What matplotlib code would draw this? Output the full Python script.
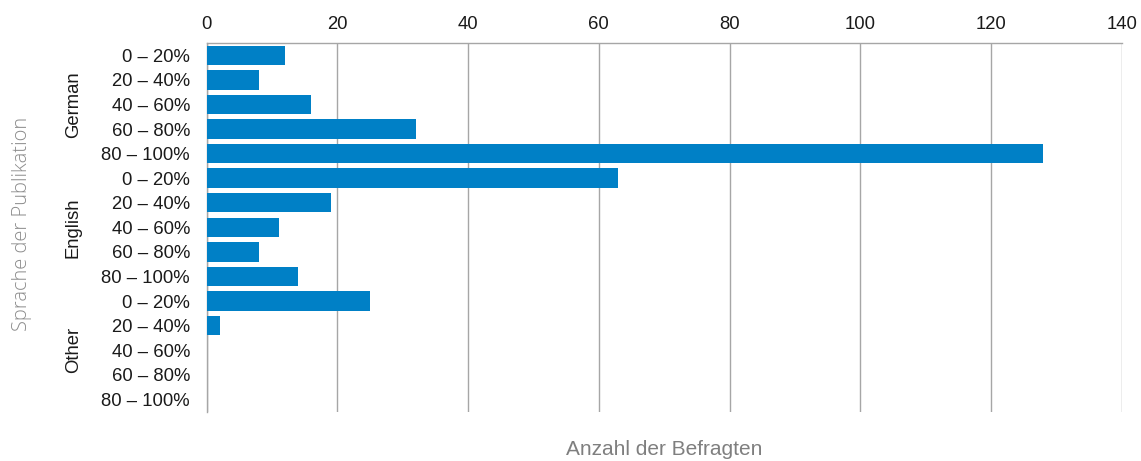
import matplotlib.pyplot as plt
import numpy as np

plt.rcParams["font.family"] = ["Liberation Sans", "DejaVu Sans"]

languages = ["German", "English", "Other"]
shares = ["0 – 20%", "20 – 40%", "40 – 60%", "60 – 80%", "80 – 100%"]
german = [12, 8, 16, 32, 128]
english = [63, 19, 11, 8, 14]
other = [25, 2, 0, 0, 0]

values = german + english + other
labels = shares * len(languages)
y = np.arange(len(values))

fig = plt.figure(figsize=(11.41, 4.61), dpi=100)
ax = fig.add_axes([0.1811, 0.1069, 0.8020, 0.7998])

ax.barh(y, values, height=0.79, color="#0080C6", zorder=3)
ax.set_ylim(len(values) - 0.5, -0.5)
ax.set_xlim(0, 140)
ax.set_xticks(np.arange(0, 141, 20))
ax.xaxis.tick_top()
ax.set_yticks(y)
ax.set_yticklabels(labels)
ax.tick_params(axis="x", length=0, pad=7, labelsize=13.3, colors="#1a1a1a")
ax.tick_params(axis="y", length=0, pad=12, labelsize=13.3, colors="#1a1a1a")

ax.grid(True, axis="x", color="#a6a6a6", linewidth=1.0, zorder=0)
for side in ["right", "bottom"]:
    ax.spines[side].set_visible(False)
for side in ["top", "left"]:
    ax.spines[side].set_color("#a6a6a6")
    ax.spines[side].set_linewidth(1.0)

# language group labels
for i, lang in enumerate(languages):
    ax.text(-20.4, i * 5 + 2, lang, rotation=90, ha="center", va="center",
            fontsize=13.3, color="#1a1a1a", transform=ax.transData, clip_on=False)

fig.text(0.019, 1 - 223.5 / 461, "Sprache der Publikation", rotation=90, ha="center", va="center",
         fontsize=14.5, color="#8c8c8c", family=["Open Sans", "DejaVu Sans"], fontweight="light")
fig.text(0.582, 1 - 449 / 461, "Anzahl der Befragten", ha="center", va="center",
         fontsize=15, color="#7f7f7f")

fig.savefig("out.png", dpi=100)
